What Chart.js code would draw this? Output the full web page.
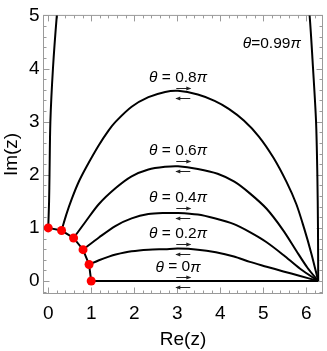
<!DOCTYPE html>
<html>
<head>
<meta charset="utf-8">
<script src="https://cdn.jsdelivr.net/npm/chart.js@4.4.1/dist/chart.umd.min.js"></script>
<style>
  html, body { margin: 0; padding: 0; background: #fff; }
</style>
</head>
<body>
<canvas id="chart" width="327" height="351"></canvas>
<script>
const xTicks = [0, 1, 2, 3, 4, 5, 6];
const yTicks = [0, 1, 2, 3, 4, 5];
const xMin = -0.11, xMax = 6.38;
const yMin = -0.235, yMax = 5;

// red points on the unit circle
const dotRe = [1, 0.95, 0.81, 0.59, 0.31, 0];
const dotIm = [0, 0.31, 0.59, 0.81, 0.95, 1];

// theta = 0
const re00 = [1, 6.28];
const im00 = [0, 0];
// theta = 0.2 pi
const re02 = [0.95, 1.18, 1.41, 1.57, 1.94, 2.33, 2.72, 3.02, 3.48, 3.90, 4.32, 4.69, 5.08, 5.47, 5.84, 6.28];
const im02 = [0.31, 0.39, 0.46, 0.50, 0.56, 0.59, 0.60, 0.61, 0.59, 0.54, 0.46, 0.36, 0.27, 0.18, 0.10, 0];
// theta = 0.4 pi
const re04 = [0.81, 1.18, 1.57, 1.94, 2.33, 2.72, 3.02, 3.48, 3.87, 4.32, 4.69, 5.08, 5.47, 5.86, 6.28];
const im04 = [0.59, 0.82, 1.04, 1.18, 1.26, 1.28, 1.28, 1.25, 1.18, 1.07, 0.92, 0.73, 0.49, 0.23, 0];
// theta = 0.6 pi
const re06 = [0.59, 0.88, 1.18, 1.57, 1.94, 2.33, 2.72, 3.02, 3.48, 3.94, 4.33, 4.69, 5.08, 5.47, 5.77, 6.03, 6.28];
const im06 = [0.81, 1.13, 1.45, 1.75, 1.97, 2.10, 2.15, 2.16, 2.11, 2.02, 1.87, 1.65, 1.36, 0.95, 0.57, 0.25, 0];
// theta = 0.8 pi
const re08 = [0.31, 0.42, 0.55, 0.70, 0.89, 1.18, 1.41, 1.57, 1.94, 2.33, 2.72, 3.02, 3.48, 3.87, 4.20, 4.55, 4.90, 5.24, 5.54, 5.77, 5.95, 6.12, 6.28];
const im08 = [0.95, 1.25, 1.55, 1.85, 2.15, 2.56, 2.84, 3.00, 3.28, 3.46, 3.56, 3.58, 3.51, 3.39, 3.24, 3.02, 2.72, 2.32, 1.87, 1.45, 1.00, 0.52, 0];
// theta = 0.99 pi (two branches leaving the frame at the top)
const re99a = [0, 0.02, 0.03, 0.05, 0.11, 0.20, 0.27];
const im99a = [1, 1.5, 2, 3, 4, 5, 5.6];
const re99b = [6.00, 6.08, 6.16, 6.23, 6.26, 6.275, 6.28];
const im99b = [5.6, 5, 4, 3, 2, 1, 0];

const labelVals = ["0", "0.2", "0.4", "0.6", "0.8"];
const labelIm = [0.26, 0.89, 1.56, 2.45, 3.82];
const labelRe = 3.02;
const arrowRe = Math.PI;

const pts = (xs, ys) => xs.map((v, i) => ({ x: v, y: ys[i] }));

const curve = (xs, ys) => ({
  data: pts(xs, ys),
  showLine: true,
  borderColor: "#000",
  borderWidth: 2,
  pointRadius: 0,
  tension: 0.3,
  fill: false,
});

const framePlugin = {
  id: "frame",
  beforeDatasetsDraw(chart) {
    const { ctx, chartArea: a, scales: { x, y } } = chart;
    ctx.save();
    ctx.strokeStyle = "#9a9a9a";
    ctx.lineWidth = 1;
    ctx.strokeRect(a.left, a.top, a.right - a.left, a.bottom - a.top);
    ctx.beginPath();
    for (let i = -1; i <= 33; i++) {
      const v = i * 0.2;
      if (v < xMin || v > xMax) continue;
      const px = Math.round(x.getPixelForValue(v)) + 0.5;
      const len = i % 5 === 0 ? 6 : 3;
      ctx.moveTo(px, a.bottom); ctx.lineTo(px, a.bottom - len);
      ctx.moveTo(px, a.top); ctx.lineTo(px, a.top + len);
    }
    for (let i = -1; i <= 25; i++) {
      const v = i * 0.2;
      if (v < yMin || v > yMax) continue;
      const py = Math.round(y.getPixelForValue(v)) + 0.5;
      const len = i % 5 === 0 ? 6 : 3;
      ctx.moveTo(a.left, py); ctx.lineTo(a.left + len, py);
      ctx.moveTo(a.right, py); ctx.lineTo(a.right - len, py);
    }
    ctx.stroke();
    ctx.restore();
  },
};

function drawLabel(ctx, cx, cy, pieces) {
  let total = 0;
  pieces.forEach((p) => { ctx.font = p[1]; total += ctx.measureText(p[0]).width; });
  let x0 = cx - total / 2;
  pieces.forEach((p) => {
    ctx.font = p[1];
    ctx.fillText(p[0], x0, cy);
    x0 += ctx.measureText(p[0]).width;
  });
}

function arrow(ctx, cx, cy, dir) {
  const half = 7;
  ctx.beginPath();
  ctx.moveTo(cx - half * dir, cy);
  ctx.lineTo(cx + half * dir, cy);
  ctx.stroke();
  ctx.beginPath();
  ctx.moveTo(cx + (half + 1) * dir, cy);
  ctx.lineTo(cx + (half - 4) * dir, cy - 2);
  ctx.lineTo(cx + (half - 4) * dir, cy + 2);
  ctx.closePath();
  ctx.fill();
}

const labelPlugin = {
  id: "labels",
  afterDatasetsDraw(chart) {
    const { ctx, scales: { x, y } } = chart;
    const it = "italic 15.5px 'Liberation Sans', Arial, sans-serif";
    const up = "15.5px 'Liberation Sans', Arial, sans-serif";
    ctx.save();
    ctx.fillStyle = "#000";
    ctx.strokeStyle = "#222";
    ctx.lineWidth = 1;
    ctx.textBaseline = "middle";
    labelVals.forEach((v, i) => {
      const py = y.getPixelForValue(labelIm[i]);
      drawLabel(ctx, x.getPixelForValue(labelRe), py, [["θ", it], [" = " + v, up], ["π", it]]);
      const ax = x.getPixelForValue(arrowRe);
      ctx.fillStyle = "#222";
      arrow(ctx, ax, Math.round(py + 10) + 0.5, 1);
      arrow(ctx, ax, Math.round(py + 20) + 0.5, -1);
      ctx.fillStyle = "#000";
    });
    drawLabel(ctx, x.getPixelForValue(5.2), y.getPixelForValue(4.46), [["θ", it], ["=0.99", up], ["π", it]]);
    ctx.restore();
  },
};

const tickFont = { family: "'Liberation Sans', Arial, sans-serif", size: 19 };

new Chart(document.getElementById("chart"), {
  type: "scatter",
  data: {
    datasets: [
      {
        data: pts(dotRe, dotIm),
        showLine: true,
        borderColor: "#000",
        borderWidth: 2,
        pointRadius: 4.5,
        pointBackgroundColor: "#ff0000",
        pointBorderColor: "#ff0000",
        pointBorderWidth: 0,
        tension: 0,
      },
      curve(re00, im00),
      curve(re02, im02),
      curve(re04, im04),
      curve(re06, im06),
      curve(re08, im08),
      curve(re99a, im99a),
      curve(re99b, im99b),
    ],
  },
  options: {
    responsive: false,
    animation: false,
    events: [],
    layout: { padding: { top: 11.5, right: 0.5, left: 0, bottom: 0 } },
    plugins: { legend: { display: false }, tooltip: { enabled: false } },
    scales: {
      x: {
        type: "linear",
        min: xMin,
        max: xMax,
        afterBuildTicks: (s) => { s.ticks = xTicks.map((v) => ({ value: v })); },
        afterFit: (s) => { s.height = 57.5; },
        grid: { display: false, drawTicks: false },
        border: { display: false },
        ticks: { color: "#000", font: tickFont, padding: 9, maxRotation: 0 },
        title: { display: true, text: "Re(z)", color: "#000", font: tickFont, padding: { top: 0, bottom: 0 } },
      },
      y: {
        type: "linear",
        min: yMin,
        max: yMax,
        afterBuildTicks: (s) => { s.ticks = yTicks.map((v) => ({ value: v })); },
        afterFit: (s) => { s.width = 43.5; },
        grid: { display: false, drawTicks: false },
        border: { display: false },
        ticks: { color: "#000", font: tickFont, padding: 4 },
        title: { display: true, text: "Im(z)", color: "#000", font: tickFont, padding: { top: 0.6, bottom: 0 } },
      },
    },
  },
  plugins: [framePlugin, labelPlugin],
});
</script>
</body>
</html>
